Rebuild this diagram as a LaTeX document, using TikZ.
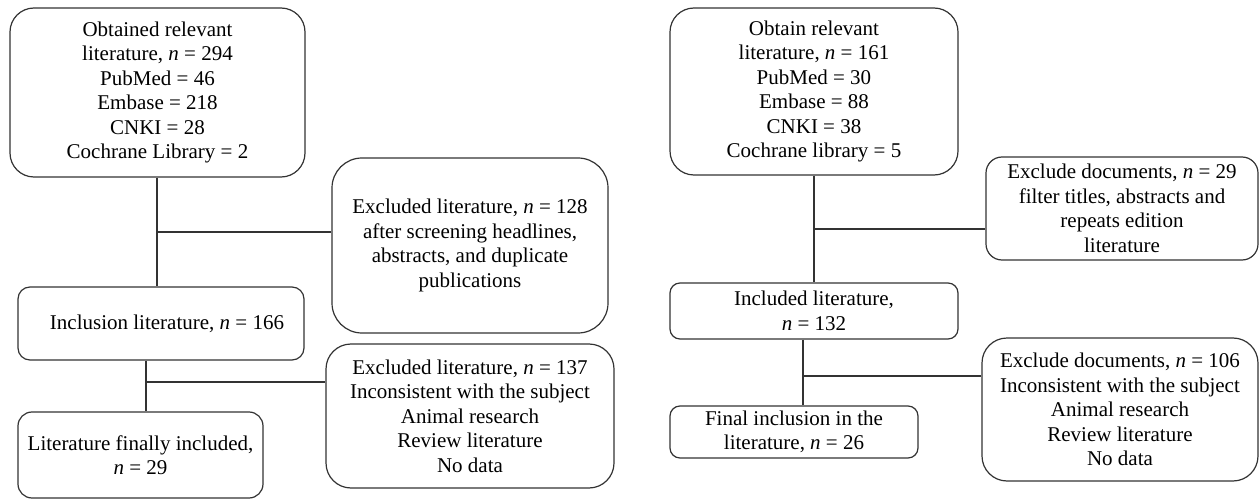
\documentclass[tikz,border=0pt]{standalone}
\usepackage{fontspec}
\setmainfont{Liberation Serif}
\newcommand{\nn}{\textit{n}}
\tikzset{
  caja/.style={draw=black!80, line width=1.2pt, align=center, inner sep=0pt,
    font=\fontsize{21}{24.5}\selectfont},
  linea/.style={draw=black!80, line width=1.2pt}
}
\begin{document}
\begin{tikzpicture}[x=1pt,y=-1pt]
                \useasboundingbox (0,0) rectangle (1259,500);
                % diagrama izquierdo
                \node [caja, rounded corners=24pt, minimum width=295pt, minimum height=169pt] (obt) at (157.5,92.5)
                  {Obtained relevant\\ literature, \nn{} = 294\\ PubMed = 46\\ Embase = 218\\ CNKI = 28\\ Cochrane Library = 2};
                \node [caja, rounded corners=30pt, minimum width=276pt, minimum height=175pt] (exc1) at (470,245.5)
                  {Excluded literature, \nn{} = 128\\ after screening headlines,\\ abstracts, and duplicate\\ publications};
                \node [caja, rounded corners=12pt, minimum width=286pt, minimum height=73pt] (incl) at (161,323.5)
                  {\hspace*{12pt}Inclusion literature, \nn{} = 166};
                \node [caja, rounded corners=25pt, minimum width=288pt, minimum height=144pt] (exc2) at (470,416)
                  {Excluded literature, \nn{} = 137\\ Inconsistent with the subject\\ Animal research\\ Review literature\\ No data};
                \node [caja, rounded corners=14pt, minimum width=245pt, minimum height=86pt] (fin) at (140.5,455)
                  {Literature finally included,\\ \nn{} = 29};
                \coordinate (rama1) at (157,232);
                \coordinate (rama2) at (146,382);
                \draw [linea] (obt.south -| rama1) -- (incl.north -| rama1);
                \draw [linea] (rama1) -- (rama1 -| exc1.west);
                \draw [linea] (incl.south -| rama2) -- (fin.north -| rama2);
                \draw [linea] (rama2) -- (rama2 -| exc2.west);
                % diagrama derecho
                \node [caja, rounded corners=24pt, minimum width=288pt, minimum height=167pt] (obt2) at (814,91.5)
                  {Obtain relevant\\ literature, \nn{} = 161\\ PubMed = 30\\ Embase = 88\\ CNKI = 38\\ Cochrane library = 5};
                \node [caja, rounded corners=16pt, minimum width=272pt, minimum height=103pt] (exc3) at (1122,208.5)
                  {Exclude documents, \nn{} = 29\\ filter titles, abstracts and\\ repeats edition\\ literature};
                \node [caja, rounded corners=10pt, minimum width=288pt, minimum height=56pt] (incl2) at (814,311)
                  {Included literature,\\ \nn{} = 132};
                \node [caja, rounded corners=25pt, minimum width=276pt, minimum height=143pt] (exc4) at (1120,409.5)
                  {Exclude documents, \nn{} = 106\\ Inconsistent with the subject\\ Animal research\\ Review literature\\ No data};
                \node [caja, rounded corners=10pt, minimum width=248pt, minimum height=52pt] (fin2) at (794,432)
                  {Final inclusion in the\\ literature, \nn{} = 26};
                \coordinate (rama3) at (814,229);
                \coordinate (rama4) at (803,376);
                \draw [linea] (obt2.south -| rama3) -- (incl2.north -| rama3);
                \draw [linea] (rama3) -- (rama3 -| exc3.west);
                \draw [linea] (incl2.south -| rama4) -- (fin2.north -| rama4);
                \draw [linea] (rama4) -- (rama4 -| exc4.west);
\end{tikzpicture}
\end{document}
